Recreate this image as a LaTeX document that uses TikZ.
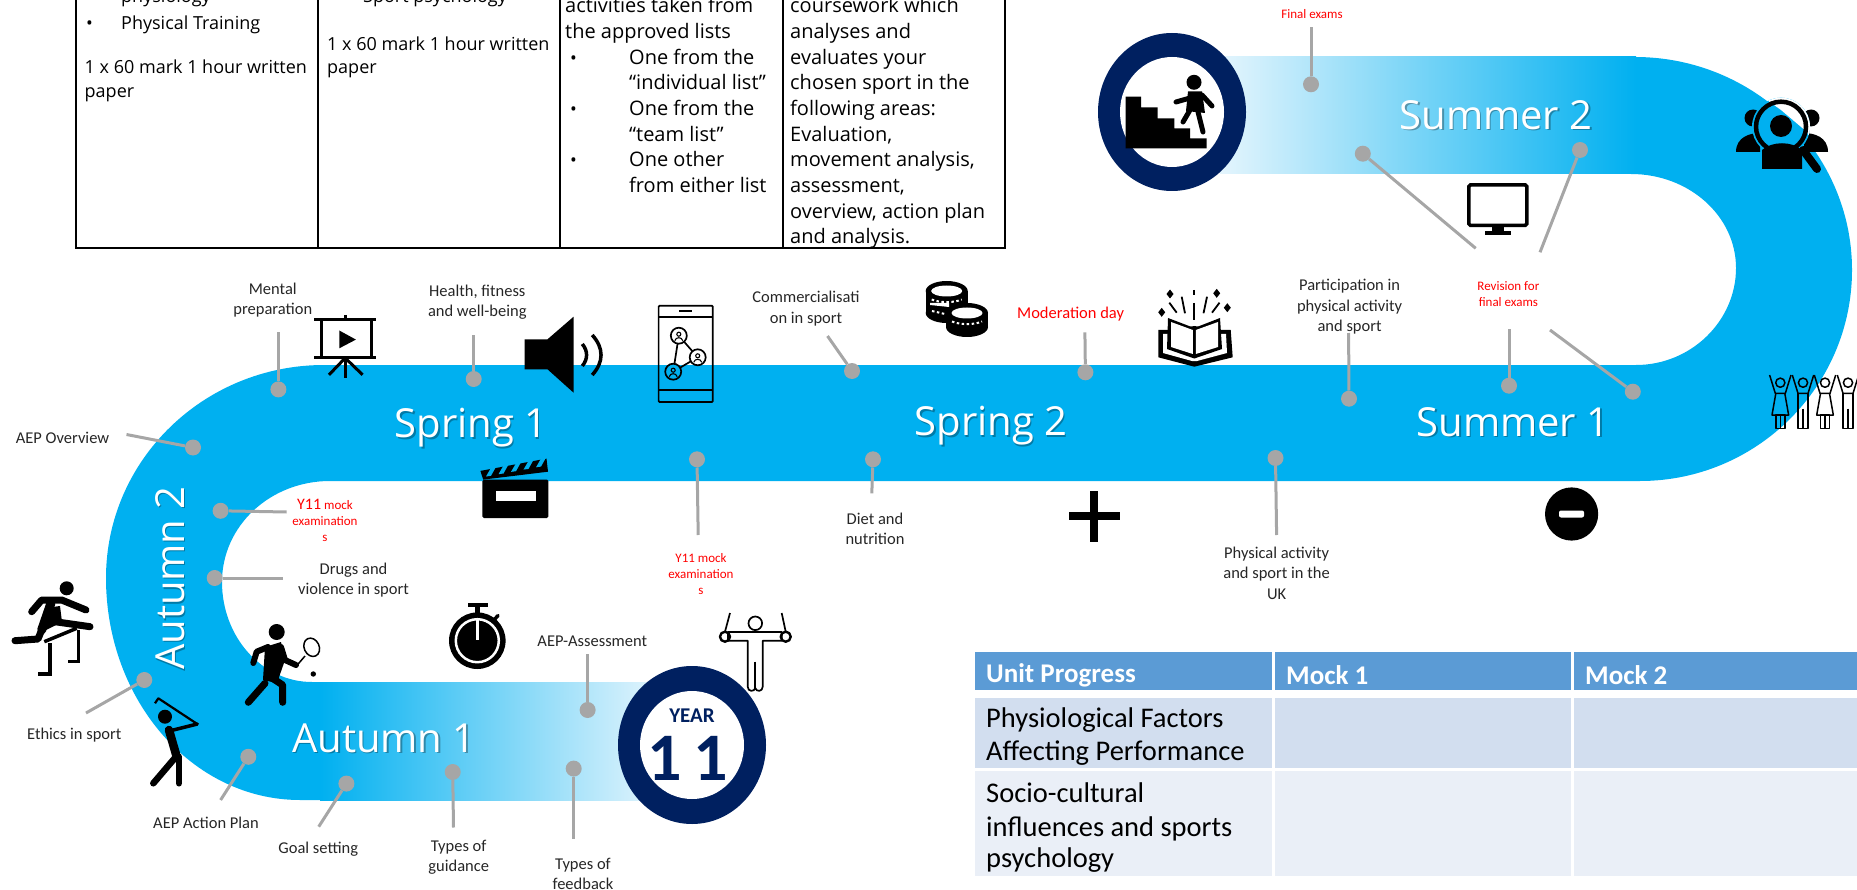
\documentclass[tikz,border=0pt]{standalone}
\usepackage{fontspec}
\setmainfont{Carlito}
\newfontfamily\bandfont{Open Sans}
\usetikzlibrary{positioning}

\definecolor{bandblue}{HTML}{00B0F0}
\definecolor{bandpale}{HTML}{E4F5FD}
\definecolor{ringnavy}{HTML}{002060}
\definecolor{pingrey}{HTML}{A6A6A6}
\definecolor{labelink}{HTML}{262626}
\definecolor{headblue}{HTML}{5B9BD5}
\definecolor{rowone}{HTML}{D2DEEF}
\definecolor{rowtwo}{HTML}{EAEFF7}

\tikzset{
    pindot/.style={circle,fill=pingrey,inner sep=0pt,minimum size=16pt},
    pinline/.style={draw=pingrey,line width=3pt},
    lbl/.style={text=labelink,align=center,inner sep=0pt,font=\fontsize{16.5}{20.5}\selectfont},
    redlbl/.style={text=red,align=center,inner sep=0pt,font=\fontsize{13}{16}\selectfont},
    bandlbl/.style={inner sep=0pt,font=\bandfont\fontsize{40}{40}\selectfont},
    cell/.style={anchor=base west,inner sep=0pt,font=\bandfont\fontsize{18}{21}\selectfont,text=black},
    bigcell/.style={cell,font=\bandfont\fontsize{20}{24}\selectfont},
    headtxt/.style={anchor=west,inner sep=0pt,text=white,font=\bfseries\fontsize{27}{32}\selectfont},
    rowtxt/.style={anchor=base west,inner sep=0pt,text=black,font=\fontsize{28.5}{32}\selectfont},
    icon/.style={line width=#1,line cap=round,line join=round},
    icon/.default=7pt,
}

\begin{document}
\begin{tikzpicture}[x=1pt,y=-1pt]
            \useasboundingbox (0,0) rectangle (1857,890);

            % Track:
            \fill[bandblue] (324,365) .. controls (204,365) and (106,460) .. (106,578)
                .. controls (106,701) and (193,800) .. (300,800) -- (322,800) -- (322,682) -- (312,682)
                .. controls (262,682) and (222,637) .. (222,582)
                .. controls (222,526) and (270,481) .. (330,481) -- (1636,481)
                -- (1640,481) .. controls (1757,481) and (1852,386) .. (1852,270)
                .. controls (1852,153) and (1755,57) .. (1635,57) -- (1631,57) -- (1631,174)
                .. controls (1689,174) and (1736,216) .. (1736,268)
                .. controls (1736,321) and (1691,365) .. (1636,365) -- (324,365) -- cycle;
            \fill[left color=bandblue,right color=bandpale] (320,682) rectangle (660,800);
            \fill[left color=bandpale,right color=bandblue] (1220,57) rectangle (1636,174);

            % Rings:
            \fill[ringnavy] (692,745) ellipse (74pt and 79pt);
            \fill[white] (692,745) ellipse (52pt and 54pt);
            \fill[ringnavy] (1172,112) ellipse (74pt and 79pt);
            \fill[white] (1172,112) ellipse (52pt and 55pt);
            \node[text=ringnavy,inner sep=0pt,font=\bfseries\fontsize{21}{21}\selectfont] (yearLbl) at (692,716) {YEAR};
            \node[text=ringnavy,inner sep=0pt,font=\bfseries\fontsize{68}{68}\selectfont] (yearNum) at (688,758) {1\,1};

            % Band names, each with a soft shadow:
            \foreach \n/\x/\y/\word/\rot in {sprOne/471/428/Spring 1/0,sprTwo/991/426/Spring 2/0,sumOne/1513/422/Summer 1/0,sumTwo/1496/115/Summer 2/0,autOne/384/738/Autumn 1/0,autTwo/170/578/Autumn 2/90}{%
                \node[bandlbl,text=black,opacity=0.3,rotate=\rot] (\n Shade) at (\x+1.5,\y+1.5) {\word};
                \node[bandlbl,text=white,rotate=\rot] (\n Band) at (\x,\y) {\word};
            }

            % Top table:
            \begin{scope}[line width=1.6pt]
            \foreach \x in {76,318,560,783,1005}{%
                \draw (\x,-3) -- (\x,248);
            }
            \draw[line width=2.6pt] (75,248) -- (1006,248);
            \end{scope}
            \foreach \y/\txt in {3/physiology,30/Physical Training}{%
                \node[cell] (colA\y) at (121,\y) {\txt};
            }
            \node[cell] (bulA) at (86,30) {•};
            \foreach \y/\txt in {74/1 x 60 mark 1 hour written,98/paper}{%
                \node[cell] (colAb\y) at (84.5,\y) {\txt};
            }
            \node[cell] (bulB) at (327,3) {•};
            \node[cell] (colB) at (363,3) {Sport psychology};
            \foreach \y/\txt in {51/1 x 60 mark 1 hour written,74/paper}{%
                \node[cell] (colBb\y) at (327,\y) {\txt};
            }
            \foreach \y/\txt in {13/activities taken from,39/the approved lists}{%
                \node[bigcell] (colC\y) at (565,\y) {\txt};
            }
            \foreach \y/\txt in {64.5/One from the,90/“individual list”,116/One from the,141.7/“team list”,167/One other,193/from either list}{%
                \node[bigcell] (colCb\y) at (629,\y) {\txt};
            }
            \foreach \y in {64.5,116,167}{%
                \node[cell] (bulC\y) at (570,\y) {•};
            }
            \foreach \y/\txt in {13/coursework which,39/analyses and,64.5/evaluates your,90/chosen sport in the,116/following areas:,141.7/{Evaluation,},167/{movement analysis,},193/{assessment,},219/{overview, action plan},244/and analysis.}{%
                \node[bigcell] (colD\y) at (790,\y) {\txt};
            }

            % Progress table:
            \foreach \xa/\xb in {975/1272,1275/1571,1574/1860}{%
                \fill[headblue] (\xa,652) rectangle (\xb,690);
                \fill[rowone] (\xa,698) rectangle (\xb,768);
                \fill[rowtwo] (\xa,771) rectangle (\xb,876);
            }
            \node[headtxt] (unitHead) at (986,675) {Unit Progress};
            \node[headtxt] (mockOne) at (1286,675) {Mock 1};
            \node[headtxt] (mockTwo) at (1585,675) {Mock 2};
            \node[rowtxt] (rowAa) at (986,727) {Physiological Factors};
            \node[rowtxt] (rowAb) at (986,760) {Affecting Performance};
            \node[rowtxt] (rowBa) at (986,802) {Socio-cultural};
            \node[rowtxt] (rowBb) at (986,836) {influences and sports};
            \node[rowtxt] (rowBc) at (986,867) {psychology};

            % Pins:
            \foreach \n/\dx/\dy/\ex/\ey in {men/278.4/389.4/278.4/332.5,hea/473.7/379/473.7/335,ove/193/447.5/126.5/434.5,mocA/220.6/510.8/286.7/512,dru/214.7/578/283/578,eth/144.3/680/86/713,act/248.3/756.8/220.6/800,goa/346.4/783.6/318.7/826.7,gui/452.7/772/453.5/827.5,fee/573.7/768.6/573.7/839,ass/587.6/710/587.6/653.5,mocB/697/459.3/698.2/535,die/873/459.3/871.8/493.3,com/852/371/827.5/336,mod/1085.4/372.3/1084.9/332.3,par/1349/398.7/1348.6/333,revA/1509/385.7/1509/329,revB/1632.8/391.7/1550/330,fin/1311/84.3/1311/27.3,sumA/1362.8/153.7/1475.7/248.3,sumB/1580/150/1540/252.3,phy/1275.5/458/1276.6/535}{%
                \node[pindot] (dot\n) at (\dx,\dy) {};
                \coordinate (end\n) at (\ex,\ey);
                \draw[pinline] (dot\n) -- (end\n);
            }

            % Labels:
            \node[lbl] (menLbl) at (272.8,300) {Mental\\preparation};
            \node[lbl] (heaLbl) at (477.3,302) {Health, fitness\\and well-being};
            \node[lbl] (oveLbl) at (62.5,437.7) {AEP Overview};
            \node[lbl] (druLbl) at (353.5,580) {Drugs and\\violence in sport};
            \node[lbl] (ethLbl) at (74.3,734.6) {Ethics in sport};
            \node[lbl] (actLbl) at (206,822.4) {AEP Action Plan};
            \node[lbl] (goaLbl) at (318.3,849.3) {Goal setting};
            \node[lbl] (guiLbl) at (458.7,857.5) {Types of\\guidance};
            \node[lbl] (feeLbl) at (583,874) {Types of\\feedback};
            \node[lbl] (assLbl) at (592.3,641.7) {AEP-Assessment};
            \node[lbl] (dieLbl) at (875,528.7) {Diet and\\nutrition};
            \node[lbl] (comLbl) at (806,308.6) {Commercialisati\\on in sport};
            \node[lbl] (parLbl) at (1349.6,307) {Participation in\\physical activity\\and sport};
            \node[lbl] (phyLbl) at (1276.6,573) {Physical activity\\and sport in the\\UK};
            \node[redlbl,font=\fontsize{16.5}{19}\selectfont] (modLbl) at (1070.6,314) {Moderation day};
            \node[redlbl] (mocALbl) at (325,520) {{\fontsize{16}{16}\selectfont Y11} mock\\examination\\s};
            \node[redlbl] (mocBLbl) at (701,574) {Y11 mock\\examination\\s};
            \node[redlbl] (revLbl) at (1508.4,294) {Revision for\\final exams};
            \node[redlbl] (finLbl) at (1312,14) {Final exams};

            % Stairs with climber:
            \fill (1125.7,96.7) -- (1141,96.7) -- (1141,107.3) -- (1157.7,107.3) -- (1157.7,118.3) -- (1174.3,118.3) -- (1174.3,128.3) -- (1190,128.3) -- (1190,138.3) -- (1206.7,138.3) -- (1206.7,148.3) -- (1125.7,148.3) -- cycle;
            \fill (1194,82.3) circle (7.5pt);
            \fill (1188,91.5) -- (1202,91.5) -- (1205,113) -- (1186,111) -- cycle;
            \draw[icon=5pt] (1176,102) -- (1190,98);
            \draw[icon=5pt] (1202,95) -- (1212,106);
            \draw[icon=5pt] (1198,112) -- (1203,132);
            \draw[icon=5pt] (1190,110) -- (1183,122);

            % Magnifier over people:
            \fill (1753,118) circle (8.5pt);
            \fill (1811,118) circle (8.5pt);
            \fill (1736,152) .. controls (1736,137) and (1750,133) .. (1760,133) -- (1760,152) -- cycle;
            \fill (1828,152) .. controls (1828,137) and (1814,133) .. (1804,133) -- (1804,152) -- cycle;
            \begin{scope}
            \clip (1781,126.7) circle (29pt);
            \fill[bandblue] (1740,85) rectangle (1822,168);
            \fill[white] (1753,90) -- (1781,110) -- (1807,132) -- (1832,180) -- (1860,180) -- (1860,85) -- (1753,85) -- cycle;
            \end{scope}
            \fill (1781,126) circle (11pt);
            \fill (1762,169) -- (1762,150) .. controls (1772,141) and (1792,141) .. (1802,150) -- (1802,169) -- cycle;
            \draw[line width=4.5pt] (1781,126.7) circle (25pt);
            \draw[icon=8pt] (1803,150) -- (1817,169);

            % Monitor:
            \draw[line width=3.5pt,rounded corners=1.5pt] (1468.8,185) rectangle (1526.8,225.3);
            \fill (1491.5,225) rectangle (1503.6,232);
            \fill (1484.6,231.5) rectangle (1511,235);

            % Cheering figures:
            \foreach \x/\kind in {1780.3/0,1803/1,1825/0,1848/1}{%
                \begin{scope}[shift={(\x,382.7)},line width=1.5pt,line join=round]
                \draw (0,0) circle (4.6pt);
                \draw (-10.7,-7.7) -- (-5,10.7) -- (5,10.7) -- (10.7,-7.7);
                \ifnum\kind=0
                    \draw (-4.5,10.7) -- (-8.3,32.3) -- (8.3,32.3) -- (4.5,10.7);
                    \draw (-4.5,32.3) rectangle (4.5,45.7);
                    \draw (0,32.3) -- (0,45.7);
                \else
                    \draw (-5,10.7) -- (-5,45.7) -- (5,45.7) -- (5,10.7);
                    \draw (0,26) -- (0,45.7);
                \fi
                \end{scope}
            }

            % Book and sparks:
            \fill (1158.3,330) -- (1158.3,357.3) -- (1194.3,366.7) -- (1232.7,357.3) -- (1230.7,330) -- (1220,330) -- (1194.3,326) -- (1170,330) -- cycle;
            \fill[white] (1163,334) -- (1163,353) -- (1192,361) -- (1197,361) -- (1227,353) -- (1226,334) -- cycle;
            \fill (1168,318) -- (1194.3,328) -- (1220,318) -- (1222,349) -- (1194.3,358.5) -- (1167,349) -- cycle;
            \fill[white] (1171,322) -- (1192.8,330) -- (1192.8,354) -- (1171,347) -- cycle;
            \fill[white] (1195.8,330) -- (1218,322) -- (1218,347) -- (1195.8,354) -- cycle;
            \begin{scope}[line width=1.8pt]
            \draw (1194.3,290) -- (1194.3,295);
            \draw (1194.3,303) -- (1194.3,320);
            \draw (1181.7,296.7) -- (1185,313.3);
            \draw (1169.3,302.7) -- (1176.7,312.7);
            \draw (1207,296.7) -- (1203.5,313.3);
            \draw (1219.5,302.7) -- (1212,312.7);
            \end{scope}
            \foreach \x/\y in {1170/294,1161.7/312.3,1216.7/293.3,1227.3/307.7}{%
                \fill (\x,\y-4.5) -- (\x+3.5,\y) -- (\x,\y+4.5) -- (\x-3.5,\y) -- cycle;
            }

            % Coins:
            \foreach \x/\y/\h in {946.7/291/22,967/313/14}{%
                \fill (\x,\y) ellipse (21pt and 10pt);
                \fill (\x-21,\y) rectangle (\x+21,\y+\h);
                \fill (\x,\y+\h) ellipse (21pt and 10pt);
                \fill[white] (\x,\y) ellipse (15.5pt and 5.5pt);
                \draw[white,line width=2pt,dash pattern=on 2.5pt off 2.5pt] (\x-15,\y+8.5) .. controls (\x-7,\y+12) and (\x+7,\y+12) .. (\x+15,\y+8.5);
            }
            \fill[white] (949,303) -- (930,303) -- (930,305) -- (949,307) -- cycle;
            \draw[white,line width=2pt,dash pattern=on 2.5pt off 2.5pt] (932,311) -- (945,314);

            % Phone:
            \begin{scope}[line width=1.7pt,rounded corners=1pt]
            \draw (658.6,305.7) rectangle (712.8,402);
            \draw (658.6,316.7) -- (712.8,316.7);
            \draw (658.6,390) -- (712.8,390);
            \draw[line width=2pt] (679,311.3) -- (692,311.3);
            \draw (678.8,335.7) -- (697.7,357.3) -- (673.2,371.7) -- cycle;
            \end{scope}
            \begin{scope}[line width=1.7pt]
            \draw[fill=white] (678.8,335.7) circle (8pt);
            \fill[white] (697.7,357.3) circle (8pt);
            \fill[bandblue] (673.2,371.7) circle (8pt);
            \draw (697.7,357.3) circle (8pt);
            \draw (673.2,371.7) circle (8pt);
            \foreach \x/\y in {678.8/335.7,697.7/357.3,673.2/371.7}{%
                \draw[line width=1.1pt] (\x,\y-1.5) circle (2pt);
                \draw[line width=1.1pt] (\x-4,\y+5) .. controls (\x-3,\y+1) and (\x+3,\y+1) .. (\x+4,\y+5);
            }
            \end{scope}

            % Speaker:
            \fill (524.6,339.3) -- (547.5,339.3) -- (573.6,316.7) -- (573.6,392.7) -- (547.5,369.3) -- (524.6,369.3) -- cycle;
            \draw[line width=3.5pt] (582.3,344) .. controls (588,351) and (588,359) .. (582.3,366);
            \draw[line width=3.5pt] (592.2,335) .. controls (604,348) and (604,362) .. (592.2,375);

            % Projector screen:
            \begin{scope}[line width=3pt]
            \draw (314.4,319.8) -- (376.4,319.8);
            \draw (314.4,357.8) -- (376.4,357.8);
            \draw (321,319.8) -- (321,357.8);
            \draw (371,319.8) -- (371,357.8);
            \draw (345.2,315) -- (345.2,320);
            \draw (345.2,357.8) -- (345.2,377.6);
            \draw (345.2,358) -- (329,374.8);
            \draw (345.2,358) -- (362.6,374.8);
            \end{scope}
            \fill (339.3,330.5) -- (339.3,348.3) -- (355.9,339.6) -- cycle;

            % Clapperboard:
            \fill[rounded corners=1.5pt] (482.4,479.6) rectangle (548.4,518);
            \fill[white] (495.5,490.6) rectangle (535.8,500.5);
            \fill (480.4,470.9) -- (546.5,458.6) -- (548,471.7) -- (483.2,479.6) -- cycle;
            \foreach \x in {0,1,2,3,4}{%
                \fill[bandblue] ({486+12.5*\x},{476.5-2.3*\x}) -- ({491+12.5*\x},{467.8-2.3*\x}) -- ({496+12.5*\x},{466.8-2.3*\x}) -- ({491+12.5*\x},{475.8-2.3*\x}) -- cycle;
            }

            % Plus and minus:
            \fill (1069,512.4) rectangle (1120,520.4);
            \fill (1090.4,491) rectangle (1098.4,542);
            \fill (1571.6,514) circle (26.6pt);
            \fill[white,rounded corners=2pt] (1559,510.5) rectangle (1584,517.5);

            % Stopwatch:
            \fill (477.3,640.7) circle (28.3pt);
            \draw[white,line width=2.5pt] (477.3,640.7) circle (21.5pt);
            \draw[white,line width=2.5pt] (477.3,618) -- (477.3,640);
            \fill (468,603) rectangle (488,607);
            \fill (474.8,605) rectangle (479.8,614);
            \draw[line width=3.5pt,line cap=round] (494,620) -- (498,615.5);

            % Gymnast:
            \begin{scope}[line width=1.7pt,line join=round]
            \draw (730,613) -- (725,631.7);
            \draw (781.7,613) -- (785.7,631.7);
            \draw[fill=white] (728,632) -- (781.7,632) -- (781.7,640.7) -- (762.7,640.7) -- (762.7,686.7) .. controls (762.7,692) and (756,692) .. (755.3,688) .. controls (754.5,692) and (747.7,692) .. (747.7,686.7) -- (747.7,640.7) -- (728,640.7) -- cycle;
            \draw (755.3,661.7) -- (755.3,688);
            \draw (755.3,623.3) circle (6.8pt);
            \draw[line width=2.4pt] (725,636.7) circle (5pt);
            \draw[line width=2.4pt] (785.7,636.7) circle (5pt);
            \end{scope}

            % Hurdler:
            \fill (66.7,588.3) circle (7pt);
            \draw[icon=7pt] (31.7,611.7) -- (41.7,600) -- (61.7,600) -- (86,610);
            \draw[icon=9pt] (51,603) -- (41.7,630);
            \draw[icon=7pt] (41.7,630) -- (38,639) -- (15,640.7);
            \draw[icon=7pt] (55,621.7) -- (90,626.7);
            \fill (45,608) -- (60,606) -- (62,622) -- (42,632) -- cycle;
            \begin{scope}[line width=3.5pt]
            \draw (44.3,641.7) -- (76.7,628.3);
            \draw (50,643) -- (50,674) -- (38.3,674);
            \draw (78.7,630) -- (78.7,661.7) -- (67.7,661.7);
            \end{scope}

            % Tennis player:
            \fill (276.7,632) circle (8pt);
            \fill (265,647) -- (281,642) -- (285,660) -- (277,683) -- (263,680) -- cycle;
            \draw[icon=6pt] (268,647) -- (256.7,651.7) -- (253.3,663);
            \draw[icon=6pt] (281,647) -- (285,660) -- (296,665);
            \draw[icon=7pt] (265,683.3) -- (248.3,702.3);
            \draw[icon=7pt] (270,676.7) -- (282.7,685) -- (282.7,702.3);
            \draw[line width=1.5pt,rotate around={25:(311.7,647.3)}] (311.7,647.3) ellipse (7.5pt and 9.5pt);
            \draw[line width=1.5pt] (305,656) -- (297.3,665);
            \fill (313.3,674) circle (2.7pt);

            % Golfer:
            \fill (165,716.7) circle (7pt);
            \draw[line width=2.2pt,line join=round] (155,703.3) -- (158.3,698.3) -- (197.3,724);
            \draw[icon=3.5pt] (197.3,724) -- (173.3,730);
            \draw[icon=8.5pt] (169,730) -- (176.7,756.7);
            \draw[icon=6.5pt] (176,756.7) -- (153.3,783.3);
            \draw[icon=6.5pt] (179,756.7) -- (179,783.3);
\end{tikzpicture}
\end{document}
